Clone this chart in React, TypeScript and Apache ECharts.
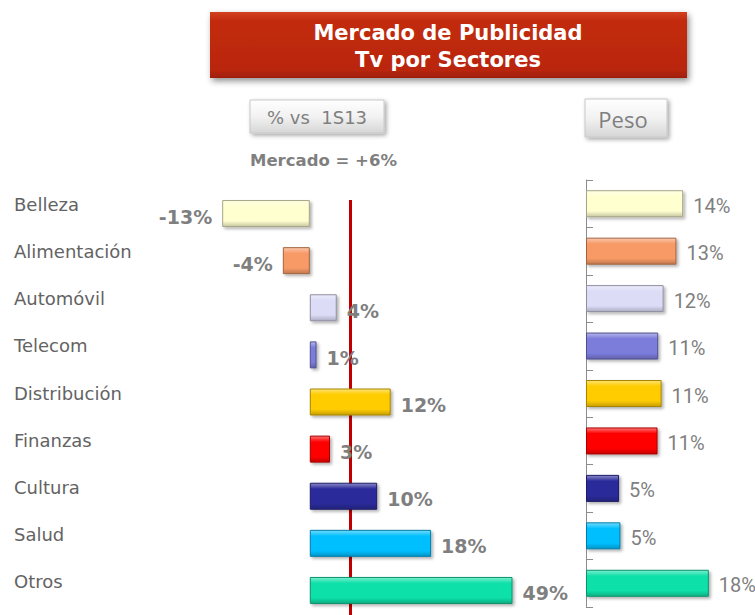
import React, { useEffect, useRef } from "react";
import * as echarts from "echarts";

const categories = ["Belleza", "Alimentación", "Automóvil", "Telecom", "Distribución", "Finanzas", "Cultura", "Salud", "Otros"];
const changeVs1S13 = [-13, -4, 4, 1, 12, 3, 10, 18, 49];
const peso = [14.4, 13.4, 11.5, 10.7, 11.2, 10.6, 4.9, 5.1, 18.2];
const mercadoChange = 6;
const barColors = ["#FFFFD0", "#F79A66", "#DCDCF7", "#7B7BDB", "#FFCC00", "#FF0000", "#2B2B9B", "#00BFFF", "#10E0A8"];
const titleLines = ["Mercado de Publicidad", "Tv por Sectores"];
const leftHeader = "% vs  1S13";
const rightHeader = "Peso";
const mercadoText = "Mercado = +6%";

function mix(hex: string, target: number, t: number): string {
  const n = parseInt(hex.slice(1), 16);
  const r = (n >> 16) & 255, g = (n >> 8) & 255, b = n & 255;
  const f = (c: number) => Math.round(c + (target - c) * t);
  return `rgb(${f(r)},${f(g)},${f(b)})`;
}

function barStyle(hex: string) {
  return {
    color: new echarts.graphic.LinearGradient(0, 0, 0, 1, [
      { offset: 0, color: mix(hex, 255, 0.45) },
      { offset: 0.22, color: hex },
      { offset: 0.78, color: hex },
      { offset: 1, color: mix(hex, 0, 0.22) },
    ]),
    borderColor: mix(hex, 0, 0.35),
    borderWidth: 1,
    shadowBlur: 3,
    shadowOffsetX: 2,
    shadowOffsetY: 2,
    shadowColor: "rgba(0,0,0,0.3)",
  };
}

export default function App() {
  const ref = useRef<HTMLDivElement>(null);
  useEffect(() => {
    document.body.style.margin = "0";
    const chart = echarts.init(ref.current!, null, { renderer: "svg" });
    const gray = "#7f7f7f";
    const btnFill = () =>
      new echarts.graphic.LinearGradient(0, 0, 0, 1, [
        { offset: 0, color: "#ffffff" },
        { offset: 0.5, color: "#f2f2f2" },
        { offset: 1, color: "#d6d6d6" },
      ]);
    chart.setOption({
      animation: false,
      backgroundColor: "#ffffff",
      grid: [
        { left: 175, top: 190, width: 337, height: 424 },
        { left: 586, top: 180, width: 135, height: 427 },
      ],
      xAxis: [
        { type: "value", gridIndex: 0, min: -20, max: 30, show: false, splitLine: { show: false } },
        { type: "value", gridIndex: 1, min: 0, max: 20, show: false, splitLine: { show: false } },
      ],
      yAxis: [
        {
          type: "category",
          gridIndex: 0,
          data: categories,
          inverse: true,
          axisLine: { show: false, onZero: false },
          axisTick: { show: false },
          axisLabel: {
            align: "left",
            verticalAlign: "bottom",
            margin: 161,
            color: "#636363",
            fontSize: 18,
            lineHeight: 18,
            fontFamily: "DejaVu Sans",
          },
        },
        {
          type: "category",
          gridIndex: 1,
          data: categories,
          inverse: true,
          axisLine: { show: true, onZero: false, lineStyle: { color: "#8c8c8c", width: 1 } },
          axisTick: { show: true, inside: true, length: 7, lineStyle: { color: "#8c8c8c" } },
          axisLabel: { show: false },
        },
      ],
      series: [
        {
          type: "bar",
          xAxisIndex: 0,
          yAxisIndex: 0,
          barWidth: 27,
          clip: true,
          z: 10,
          data: changeVs1S13.map((v, i) => ({
            value: v,
            itemStyle: barStyle(barColors[i]),
            label: { position: v < 0 ? "left" : "right" },
          })),
          label: {
            show: true,
            formatter: (p: any) => `${p.value}%`,
            color: gray,
            fontSize: 19,
            fontWeight: "bold",
            fontFamily: "DejaVu Sans",
            distance: 10,
            offset: [0, 3],
          },
        },
        {
          type: "bar",
          xAxisIndex: 1,
          yAxisIndex: 1,
          barWidth: 27,
          z: 10,
          data: peso.map((v, i) => ({ value: v, itemStyle: barStyle(barColors[i]) })),
          label: {
            show: true,
            position: "right",
            formatter: (p: any) => `${Math.round(p.value)}%`,
            color: gray,
            fontSize: 20,
            fontFamily: "Roboto",
            distance: 10,
            offset: [0, 2],
          },
        },
      ],
      graphic: [
        {
          type: "rect",
          shape: { x: 210, y: 12, width: 477, height: 66 },
          style: {
            fill: new echarts.graphic.LinearGradient(0, 0, 0, 1, [
              { offset: 0, color: "#D2401F" },
              { offset: 0.12, color: "#C32C10" },
              { offset: 0.88, color: "#B9260C" },
              { offset: 1, color: "#9E1E08" },
            ]),
            shadowBlur: 6,
            shadowOffsetX: 2,
            shadowOffsetY: 3,
            shadowColor: "rgba(0,0,0,0.45)",
          },
        },
        {
          type: "text",
          style: {
            x: 448,
            y: 46,
            text: titleLines.join("\n"),
            fill: "#ffffff",
            font: "bold 21px 'DejaVu Sans'",
            textAlign: "center",
            textVerticalAlign: "middle",
            lineHeight: 27,
          },
        },
        {
          type: "rect",
          shape: { x: 250, y: 100, width: 134, height: 33 },
          style: {
            fill: btnFill(),
            stroke: "#c8c8c8",
            lineWidth: 1,
            shadowBlur: 4,
            shadowOffsetX: 2,
            shadowOffsetY: 2,
            shadowColor: "rgba(0,0,0,0.35)",
          },
        },
        {
          type: "text",
          style: {
            x: 317,
            y: 117,
            text: leftHeader,
            fill: gray,
            font: "18px 'DejaVu Sans'",
            textAlign: "center",
            textVerticalAlign: "middle",
          },
        },
        {
          type: "rect",
          shape: { x: 585, y: 99, width: 82, height: 38 },
          style: {
            fill: btnFill(),
            stroke: "#c8c8c8",
            lineWidth: 1,
            shadowBlur: 4,
            shadowOffsetX: 2,
            shadowOffsetY: 2,
            shadowColor: "rgba(0,0,0,0.35)",
          },
        },
        {
          type: "text",
          style: {
            x: 623,
            y: 119,
            text: rightHeader,
            fill: gray,
            font: "22px 'Open Sans'",
            textAlign: "center",
            textVerticalAlign: "middle",
          },
        },
        {
          type: "text",
          style: {
            x: 250,
            y: 160,
            text: mercadoText,
            fill: gray,
            font: "bold 16.5px 'DejaVu Sans'",
            textAlign: "left",
            textVerticalAlign: "middle",
          },
        },
      ],
    });
    // Mercado reference line, positioned through the chart's own x scale
    const mx = chart.convertToPixel({ xAxisIndex: 0 }, mercadoChange) as number;
    chart.setOption({
      series: [
        {},
        {},
        {
          type: "line",
          xAxisIndex: 0,
          yAxisIndex: 0,
          data: [],
          z: 1,
          markLine: {
            silent: true,
            z: 1,
            symbol: "none",
            label: { show: false },
            lineStyle: { color: "#C00000", width: 3, type: "solid" },
            data: [[{ x: mx, y: 200 }, { x: mx, y: 615 }]],
          },
        },
      ],
    });
    return () => chart.dispose();
  }, []);
  return <div ref={ref} style={{ width: 755, height: 615 }} />;
}
